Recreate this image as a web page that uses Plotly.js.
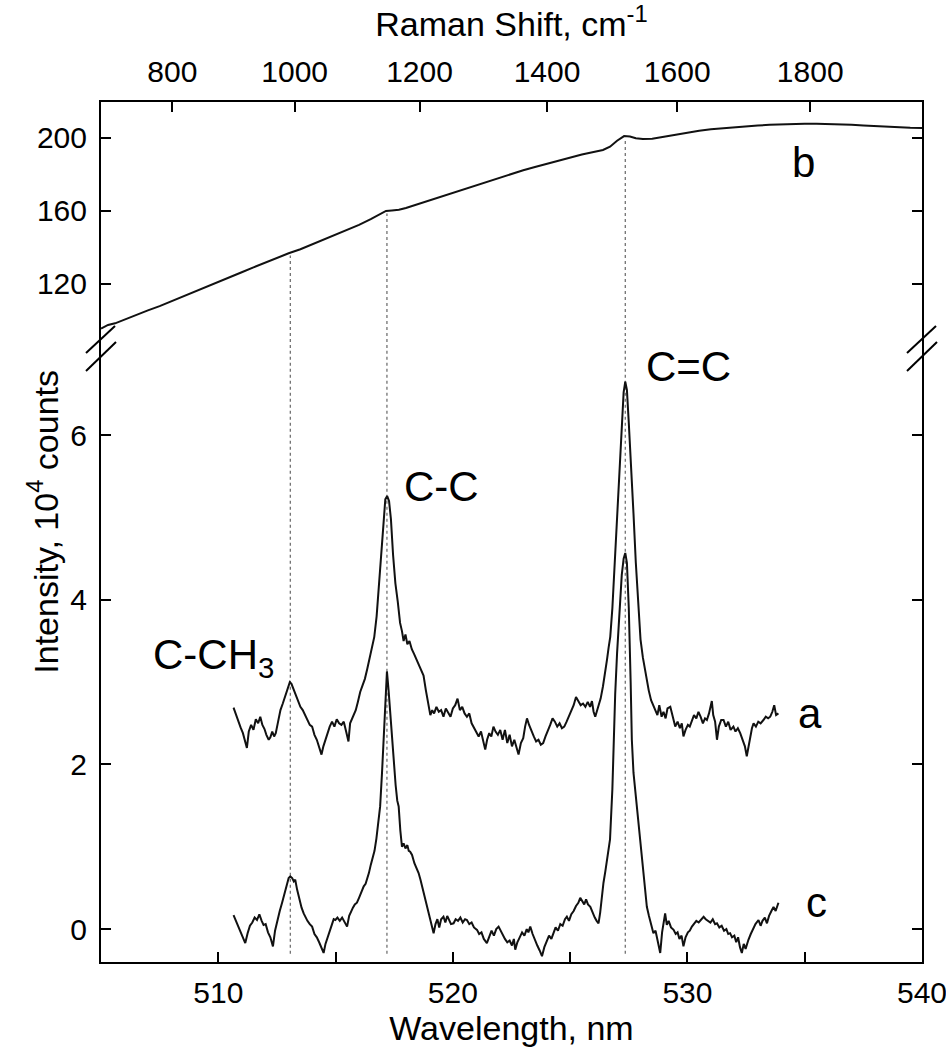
<!DOCTYPE html>
<html>
<head>
<meta charset="utf-8">
<script src="https://cdn.plot.ly/plotly-3.0.1.min.js"></script>
<style>
  body { margin: 0; background: #fff; }
  #chart { width: 946px; height: 1050px; }
</style>
</head>
<body>
<div id="chart"></div>
<script>
// spectrum a (bottom panel, upper trace), 10^4 counts
var aWave = [510.65,510.75,510.85,510.95,511.05,511.15,511.22,511.30,511.40,511.50,511.60,511.70,511.79,511.88,511.97,512.05,512.15,512.22,512.30,512.38,
  512.45,512.55,512.65,512.75,512.85,512.95,513.05,513.12,513.20,513.30,513.40,513.50,513.60,513.70,513.80,513.90,514.00,514.10,514.20,514.30,
  514.40,514.48,514.56,514.65,514.75,514.85,514.95,515.05,515.15,515.25,515.35,515.45,515.55,515.62,515.70,515.78,515.86,515.95,516.05,516.15,
  516.25,516.35,516.45,516.55,516.65,516.75,516.85,516.95,517.05,517.12,517.20,517.28,517.36,517.45,517.55,517.65,517.75,517.83,517.90,517.98,
  518.06,518.15,518.25,518.35,518.45,518.55,518.65,518.75,518.85,518.95,519.04,519.12,519.20,519.30,519.40,519.50,519.60,519.70,519.80,519.90,
  520.00,520.10,520.20,520.30,520.40,520.50,520.60,520.70,520.80,520.90,521.00,521.10,521.20,521.30,521.38,521.46,521.55,521.64,521.73,521.82,
  521.92,522.02,522.12,522.22,522.32,522.42,522.52,522.62,522.72,522.80,522.90,523.00,523.08,523.16,523.25,523.35,523.45,523.55,523.65,523.75,
  523.85,523.95,524.05,524.15,524.25,524.35,524.45,524.55,524.65,524.75,524.85,524.95,525.05,525.15,525.25,525.35,525.45,525.55,525.65,525.75,
  525.85,525.93,526.00,526.07,526.15,526.22,526.30,526.40,526.50,526.57,526.64,526.71,526.80,526.90,527.00,527.10,527.20,527.28,527.35,527.42,
  527.50,527.60,527.70,527.80,527.90,528.00,528.10,528.20,528.27,528.35,528.45,528.55,528.63,528.72,528.80,528.90,528.98,529.07,529.15,529.27,
  529.36,529.48,529.58,529.68,529.76,529.83,529.92,530.02,530.10,530.19,530.28,530.38,530.47,530.56,530.66,530.75,530.83,530.92,531.00,531.04,
  531.10,531.18,531.26,531.34,531.44,531.54,531.64,531.74,531.84,531.96,532.05,532.15,532.25,532.35,532.45,532.53,532.60,532.68,532.75,532.82,
  532.92,533.02,533.12,533.24,533.34,533.44,533.53,533.62,533.70,533.78,533.88];
var aCounts = [2.69,2.60,2.52,2.45,2.38,2.28,2.20,2.40,2.48,2.42,2.55,2.50,2.58,2.48,2.43,2.36,2.30,2.33,2.40,2.34,
  2.38,2.52,2.66,2.74,2.82,2.90,3.00,2.98,2.92,2.86,2.78,2.70,2.66,2.60,2.52,2.48,2.46,2.36,2.30,2.20,
  2.12,2.22,2.30,2.38,2.46,2.52,2.46,2.55,2.50,2.48,2.52,2.40,2.28,2.50,2.56,2.60,2.66,2.76,2.88,2.96,
  3.04,3.16,3.28,3.40,3.55,3.80,4.15,4.55,4.95,5.22,5.26,5.20,4.98,4.55,4.20,3.98,3.72,3.62,3.50,3.58,
  3.46,3.50,3.40,3.34,3.28,3.20,3.14,3.08,2.90,2.72,2.60,2.66,2.62,2.70,2.64,2.66,2.58,2.68,2.62,2.58,
  2.68,2.72,2.80,2.66,2.70,2.62,2.58,2.62,2.50,2.44,2.38,2.34,2.40,2.26,2.18,2.30,2.38,2.34,2.46,2.40,
  2.36,2.42,2.30,2.42,2.26,2.36,2.22,2.30,2.18,2.12,2.26,2.32,2.46,2.56,2.48,2.40,2.34,2.28,2.30,2.24,
  2.26,2.34,2.40,2.48,2.56,2.52,2.46,2.50,2.44,2.46,2.52,2.58,2.64,2.72,2.82,2.76,2.72,2.74,2.70,2.76,
  2.70,2.77,2.64,2.58,2.66,2.74,2.80,2.95,3.12,3.27,3.42,3.55,3.90,4.45,5.05,5.66,6.20,6.52,6.65,6.55,
  6.15,5.66,5.05,4.45,3.90,3.52,3.30,3.12,3.03,2.90,2.78,2.70,2.66,2.60,2.72,2.58,2.64,2.56,2.68,2.70,
  2.60,2.46,2.52,2.44,2.50,2.34,2.42,2.48,2.46,2.54,2.60,2.56,2.64,2.58,2.50,2.56,2.54,2.62,2.70,2.77,
  2.60,2.52,2.30,2.46,2.54,2.54,2.46,2.52,2.42,2.46,2.40,2.44,2.38,2.30,2.22,2.10,2.20,2.36,2.44,2.50,
  2.46,2.52,2.50,2.54,2.58,2.56,2.58,2.64,2.72,2.60,2.62];

// spectrum c (bottom panel, lower trace)
var cWave = [510.65,510.75,510.85,510.95,511.05,511.15,511.25,511.35,511.45,511.55,511.65,511.75,511.85,511.93,512.02,512.12,512.22,512.33,512.42,512.52,
  512.62,512.72,512.82,512.92,513.00,513.07,513.15,513.22,513.28,513.36,513.45,513.55,513.64,513.72,513.80,513.90,514.00,514.10,514.20,514.30,
  514.40,514.49,514.57,514.66,514.75,514.85,514.92,514.99,515.08,515.18,515.28,515.38,515.49,515.58,515.66,515.74,515.82,515.91,516.00,516.10,
  516.20,516.28,516.34,516.42,516.50,516.58,516.66,516.74,516.82,516.90,516.98,517.05,517.12,517.19,517.26,517.33,517.40,517.48,517.56,517.63,
  517.69,517.76,517.83,517.90,517.98,518.06,518.12,518.18,518.26,518.36,518.46,518.54,518.62,518.72,518.82,518.90,518.98,519.06,519.12,519.18,
  519.26,519.34,519.42,519.50,519.60,519.68,519.76,519.84,519.92,520.03,520.12,520.22,520.32,520.42,520.52,520.60,520.70,520.80,520.90,521.03,
  521.12,521.22,521.32,521.45,521.55,521.65,521.75,521.85,521.95,522.02,522.12,522.22,522.32,522.42,522.52,522.60,522.66,522.75,522.85,522.95,
  523.05,523.15,523.22,523.30,523.40,523.50,523.60,523.70,523.80,523.90,524.00,524.10,524.20,524.29,524.38,524.48,524.58,524.68,524.78,524.86,
  524.95,525.05,525.15,525.25,525.35,525.43,525.52,525.60,525.68,525.76,525.86,525.95,526.05,526.13,526.21,526.28,526.35,526.42,526.50,526.60,
  526.70,526.80,526.85,526.92,527.00,527.10,527.20,527.28,527.35,527.42,527.50,527.58,527.63,527.70,527.80,527.90,527.99,528.08,528.18,528.27,
  528.36,528.46,528.55,528.64,528.72,528.78,528.84,528.92,528.98,529.05,529.12,529.20,529.30,529.41,529.50,529.58,529.66,529.75,529.83,529.92,
  530.02,530.10,530.19,530.28,530.38,530.48,530.58,530.69,530.78,530.88,530.98,531.08,531.18,531.26,531.36,531.46,531.56,531.66,531.74,531.82,
  531.90,532.00,532.08,532.16,532.24,532.32,532.40,532.48,532.55,532.60,532.70,532.80,532.90,533.03,533.12,533.20,533.30,533.39,533.48,533.58,
  533.67,533.76,533.83,533.88];
var cCounts = [0.17,0.10,0.02,-0.05,-0.10,-0.17,-0.05,0.04,0.08,0.14,0.11,0.18,0.10,0.05,0.06,-0.04,-0.10,-0.21,-0.02,0.12,
  0.22,0.32,0.42,0.55,0.62,0.64,0.62,0.58,0.60,0.48,0.36,0.26,0.19,0.14,0.10,0.06,0.03,-0.06,-0.10,-0.16,
  -0.22,-0.29,-0.18,-0.10,0.00,0.06,0.12,0.11,0.14,0.10,0.14,0.08,0.03,0.16,0.22,0.26,0.30,0.32,0.38,0.46,
  0.52,0.55,0.60,0.68,0.78,0.86,0.95,1.10,1.28,1.49,1.90,2.30,2.85,3.13,2.90,2.60,2.30,2.00,1.75,1.56,
  1.49,1.20,1.00,1.04,0.98,1.02,0.95,0.94,0.90,0.80,0.74,0.68,0.60,0.48,0.36,0.27,0.16,0.06,0.00,-0.05,
  0.06,0.12,0.02,0.12,0.15,0.08,0.16,0.10,0.06,0.07,0.12,0.10,0.14,0.08,0.12,0.11,0.06,0.08,0.02,-0.01,
  -0.06,-0.04,-0.12,-0.17,-0.08,-0.02,-0.08,0.00,0.03,-0.01,-0.08,-0.12,-0.16,-0.14,-0.20,-0.12,-0.25,-0.16,-0.10,-0.04,
  -0.08,0.00,-0.04,0.03,-0.06,-0.14,-0.20,-0.26,-0.33,-0.22,-0.16,-0.08,-0.12,-0.05,0.02,-0.02,0.06,0.04,0.12,0.15,
  0.10,0.18,0.22,0.28,0.32,0.38,0.34,0.30,0.36,0.30,0.27,0.20,0.14,0.10,0.07,0.20,0.40,0.56,0.70,0.90,
  1.09,1.70,2.30,2.85,3.35,3.90,4.30,4.50,4.57,4.45,3.90,3.00,2.30,1.90,1.60,1.30,1.09,0.80,0.52,0.27,
  0.16,0.06,-0.05,-0.02,-0.14,-0.22,-0.29,-0.04,0.08,0.19,0.05,0.10,0.02,-0.01,-0.06,-0.04,-0.12,-0.08,-0.21,-0.10,
  -0.04,-0.02,0.03,0.06,0.10,0.08,0.12,0.15,0.12,0.10,0.08,0.12,0.06,0.07,0.02,0.04,-0.02,0.00,-0.06,-0.05,
  -0.10,-0.08,-0.16,-0.10,-0.22,-0.29,-0.18,-0.24,-0.16,-0.13,-0.06,0.00,0.06,0.11,0.04,0.10,0.14,0.07,0.16,0.22,
  0.27,0.22,0.30,0.32];

// spectrum b (top panel), counts
var bWave = [505.0,505.3,505.6,506.0,506.5,507.0,507.5,508.0,508.5,509.0,509.5,510.0,510.5,511.0,511.5,512.0,512.5,513.0,513.5,514.0,
  514.5,515.0,515.5,516.0,516.5,516.9,517.15,517.4,517.7,518.0,518.5,519.0,519.5,520.0,520.5,521.0,521.5,522.0,522.5,523.0,
  523.5,524.0,524.5,525.0,525.5,526.0,526.4,526.7,527.0,527.3,527.55,527.8,528.1,528.5,529.0,529.5,530.0,530.5,531.0,531.5,
  532.0,532.5,533.0,533.5,534.0,534.5,535.0,535.5,536.0,536.5,537.0,537.5,538.0,538.5,539.0,539.5,540.0];
var bCounts = [95.5,97.5,98.4,100.5,103.0,105.5,107.8,110.4,113.0,115.6,118.3,121.0,123.7,126.4,129.1,131.8,134.4,136.8,139.0,141.6,
  144.2,146.8,149.6,152.4,155.5,158.3,160.0,160.3,160.6,161.6,163.7,165.8,167.8,169.9,172.1,174.2,176.3,178.3,180.3,182.3,
  184.1,185.9,187.6,189.3,190.9,192.3,193.4,195.2,198.5,201.0,200.8,199.8,199.4,199.6,200.8,202.0,203.0,204.0,204.7,205.3,
  205.9,206.4,206.8,207.2,207.5,207.7,207.8,207.8,207.7,207.5,207.2,206.8,206.4,206.0,205.8,205.6,205.5];

// band positions (nm) and their labels
var peakWave = [513.07, 517.19, 527.35];
var peakNames = ['C-CH<sub>3</sub>', 'C-C', 'C=C'];

// top axis: Raman shift, 488 nm excitation
var laserNm = 488.2;
var ramanTicks = [800, 1000, 1200, 1400, 1600, 1800];
var ramanTickWave = ramanTicks.map(function (s) { return 1e7 / (1e7 / laserNm - s); });

var FONT = 'Liberation Sans, Arial, Helvetica, sans-serif';
var split = 0.714;

function interpB(x) {
    for (var i = 1; i < bWave.length; i++) {
        if (bWave[i] >= x) {
            var t = (x - bWave[i - 1]) / (bWave[i] - bWave[i - 1]);
            return bCounts[i - 1] + t * (bCounts[i] - bCounts[i - 1]);
        }
    }
    return bCounts[bCounts.length - 1];
}

var lineStyle = { color: '#111', width: 2 };
var traces = [
    { x: aWave, y: aCounts, type: 'scatter', mode: 'lines', line: lineStyle, xaxis: 'x', yaxis: 'y', name: 'a' },
    { x: cWave, y: cCounts, type: 'scatter', mode: 'lines', line: lineStyle, xaxis: 'x', yaxis: 'y', name: 'c' },
    { x: bWave, y: bCounts, type: 'scatter', mode: 'lines', line: lineStyle, xaxis: 'x2', yaxis: 'y2', name: 'b' }
];

// dotted guides through both panels
var shapes = [];
peakWave.forEach(function (p) {
    var dot = { color: '#666', width: 1.2, dash: 'dot' };
    shapes.push({ type: 'line', xref: 'x', yref: 'y', x0: p, x1: p, y0: -0.3, y1: 7.06, line: dot, layer: 'below' });
    shapes.push({ type: 'line', xref: 'x2', yref: 'y2', x0: p, x1: p, y0: 84.9, y1: interpB(p) - 1.5, line: dot, layer: 'below' });
});

// axis break marks, left and right
[0, 1].forEach(function (side) {
    [[-15, -5, 14, 22], [-15, -23, 15, 6]].forEach(function (m) {
        shapes.push({
            type: 'line', xref: 'paper', yref: 'paper', xsizemode: 'pixel', ysizemode: 'pixel',
            xanchor: side, yanchor: split, x0: m[0], y0: m[1], x1: m[2], y1: m[3],
            line: { color: '#000', width: 2 }
        });
    });
});

var axisCommon = {
    showgrid: false, zeroline: false, showline: true, linecolor: '#000', linewidth: 2,
    ticks: 'inside', ticklen: 10, tickwidth: 2, tickcolor: '#000',
    ticklabeloverflow: 'allow',
    tickfont: { family: FONT, size: 30, color: '#000' }
};

function label(text, xref, yref, x, y) {
    return { text: text, xref: xref, yref: yref, x: x, y: y, showarrow: false,
             font: { family: FONT, size: 42, color: '#000' } };
}

var layout = {
    width: 946, height: 1050,
    margin: { l: 101, r: 24, t: 102, b: 88 },
    paper_bgcolor: '#fff', plot_bgcolor: '#fff',
    showlegend: false,
    font: { family: FONT, color: '#000' },
    xaxis: Object.assign({}, axisCommon, {
        domain: [0, 1], anchor: 'y', range: [505, 540],
        tickmode: 'array', tickvals: [510, 520, 530, 540], ticklabelstandoff: 3,
        minor: { tickvals: [505, 515, 525, 535], ticks: 'inside', ticklen: 10, tickwidth: 2, tickcolor: '#000' },
        title: { text: 'Wavelength, nm', font: { family: FONT, size: 34, color: '#000' }, standoff: 2 }
    }),
    xaxis2: Object.assign({}, axisCommon, {
        overlaying: 'x', anchor: 'y2', side: 'top', range: [505, 540],
        tickmode: 'array', tickvals: ramanTickWave, ticktext: ramanTicks.map(String), ticklabelstandoff: 6,
        title: { text: 'Raman Shift, cm<sup>-1</sup>', font: { family: FONT, size: 34, color: '#000' }, standoff: 8 }
    }),
    yaxis: Object.assign({}, axisCommon, {
        domain: [0, split], anchor: 'x', range: [-0.4, 7.06],
        tickvals: [0, 2, 4, 6], mirror: 'ticks', ticklabelstandoff: 6
    }),
    yaxis2: Object.assign({}, axisCommon, {
        domain: [split, 1], anchor: 'x2', range: [84.9, 219.7],
        tickvals: [120, 160, 200], mirror: 'ticks', ticklabelstandoff: 6
    }),
    shapes: shapes,
    annotations: [
        { text: 'Intensity, 10<sup>4</sup> counts', xref: 'paper', yref: 'paper', x: 0, y: 0.512,
          xanchor: 'center', yanchor: 'middle', xshift: -58, textangle: -90, showarrow: false,
          font: { family: FONT, size: 34, color: '#000' } },
        label('b', 'x2', 'y2', 534.94, 186.3),
        label('a', 'x', 'y', 535.23, 2.62),
        label('c', 'x', 'y', 535.51, 0.32),
        label(peakNames[0], 'x', 'y', 509.81, 3.30),
        label(peakNames[1], 'x', 'y', 519.53, 5.38),
        label(peakNames[2], 'x', 'y', 530.03, 6.84)
    ]
};

Plotly.newPlot('chart', traces, layout, { staticPlot: true });
</script>
</body>
</html>
